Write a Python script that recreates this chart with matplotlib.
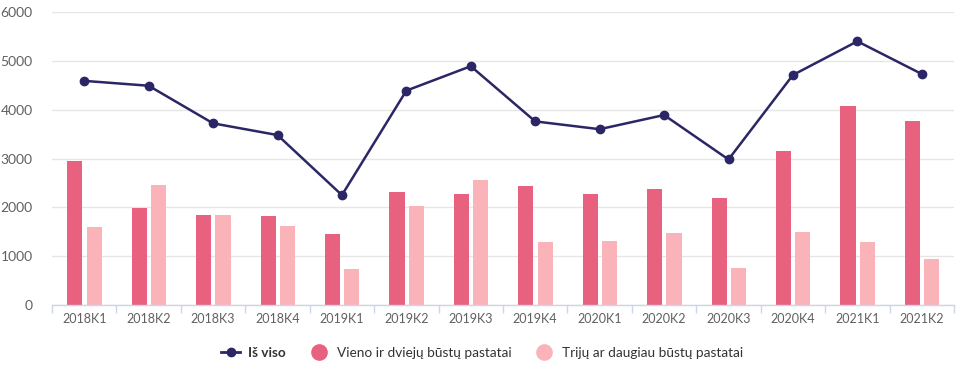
import matplotlib
matplotlib.use("Agg")
import matplotlib.pyplot as plt
from matplotlib.lines import Line2D
import numpy as np

categories = ["2018K1", "2018K2", "2018K3", "2018K4", "2019K1", "2019K2", "2019K3",
              "2019K4", "2020K1", "2020K2", "2020K3", "2020K4", "2021K1", "2021K2"]
total = [4590, 4490, 3720, 3480, 2250, 4390, 4890, 3760, 3600, 3890, 2980, 4710, 5400, 4730]
one_two = [2950, 1990, 1840, 1820, 1450, 2310, 2270, 2440, 2270, 2370, 2200, 3160, 4080, 3760]
three_plus = [1600, 2460, 1840, 1620, 730, 2030, 2560, 1285, 1305, 1475, 750, 1495, 1285, 945]
yticks = [0, 1000, 2000, 3000, 4000, 5000, 6000]

names = ["Iš viso", "Vieno ir dviejų būstų pastatai", "Trijų ar daugiau būstų pastatai"]
c_line = "#2b2766"
c_dark = "#e8617f"
c_light = "#fbb3ba"

plt.rcParams['font.family'] = ['Lato', 'DejaVu Sans']

fig = plt.figure(figsize=(9.64, 3.69), dpi=100)
ax = fig.add_axes([52/964, 64/369, 902/964, 293/369])

x = np.arange(len(categories))
w = 0.235
ax.bar(x - 0.145, one_two, width=w, color=c_dark, zorder=2)
ax.bar(x + 0.155, three_plus, width=w, color=c_light, zorder=2)
ax.plot(x, total, color=c_line, lw=1.8, marker='o', ms=6, zorder=3)

ax.set_xlim(-0.5, len(categories) - 0.5)
ax.set_ylim(0, 6000)
ax.set_yticks(yticks)
ax.set_yticklabels([str(v) for v in yticks])
ax.yaxis.grid(True, color="#e6e6e6", lw=1, zorder=0)
ax.tick_params(axis='y', length=0, labelsize=10, labelcolor="#606060", pad=14)

ax.set_xticks(x)
ax.set_xticklabels(categories)
ax.tick_params(axis='x', length=0, labelsize=9, labelcolor="#606060", pad=6)
ax.set_xticks(np.arange(len(categories) + 1) - 0.5, minor=True)
ax.tick_params(axis='x', which='minor', length=6, color="#ccd6eb", width=1)

for s in ['top', 'right', 'left']:
    ax.spines[s].set_visible(False)
ax.spines['bottom'].set_color("#ccd6eb")
ax.spines['bottom'].set_linewidth(1)

handles = [
    Line2D([0], [0], color=c_line, lw=2, marker='o', ms=6),
    Line2D([0], [0], color='none', marker='o', ms=12, markerfacecolor=c_dark, markeredgecolor='none'),
    Line2D([0], [0], color='none', marker='o', ms=12, markerfacecolor=c_light, markeredgecolor='none'),
]
leg = fig.legend(handles, names, loc='center', bbox_to_anchor=(0.5, 16/369), ncol=3,
                 frameon=False, fontsize=9.8, handlelength=1.4, handletextpad=0.6,
                 columnspacing=1.7, labelcolor="#333333")
leg.get_texts()[0].set_fontweight('bold')

fig.savefig("out.png", dpi=100)
